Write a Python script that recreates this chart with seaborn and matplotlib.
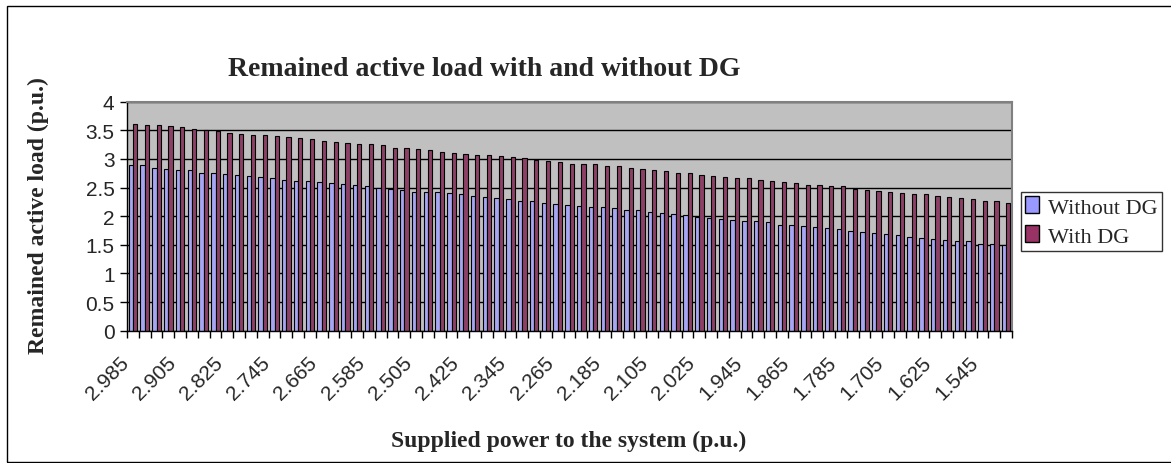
import matplotlib
matplotlib.use("Agg")
import matplotlib.pyplot as plt
import seaborn as sns
import pandas as pd
import numpy as np
from matplotlib.transforms import ScaledTranslation
from matplotlib.patches import Rectangle, Patch

# ---------------- data ----------------
supplied = ["2.985", "2.965", "2.945", "2.925", "2.905", "2.885", "2.865", "2.845",
            "2.825", "2.805", "2.785", "2.765", "2.745", "2.725", "2.705", "2.685",
            "2.665", "2.645", "2.625", "2.605", "2.585", "2.565", "2.545", "2.525",
            "2.505", "2.485", "2.465", "2.445", "2.425", "2.405", "2.385", "2.365",
            "2.345", "2.325", "2.305", "2.285", "2.265", "2.245", "2.225", "2.205",
            "2.185", "2.165", "2.145", "2.125", "2.105", "2.085", "2.065", "2.045",
            "2.025", "2.005", "1.985", "1.965", "1.945", "1.925", "1.905", "1.885",
            "1.865", "1.845", "1.825", "1.805", "1.785", "1.765", "1.745", "1.725",
            "1.705", "1.685", "1.665", "1.645", "1.625", "1.605", "1.585", "1.565",
            "1.545", "1.525", "1.505"]

without_dg = [2.89, 2.89, 2.85, 2.83, 2.80, 2.80, 2.76, 2.76, 2.74, 2.72, 2.70, 2.69,
              2.66, 2.64, 2.62, 2.62, 2.60, 2.58, 2.56, 2.54, 2.52, 2.50, 2.48, 2.45,
              2.43, 2.42, 2.42, 2.40, 2.38, 2.36, 2.34, 2.31, 2.30, 2.27, 2.26, 2.23,
              2.22, 2.20, 2.18, 2.16, 2.16, 2.14, 2.11, 2.10, 2.07, 2.06, 2.04, 2.02,
              1.99, 1.97, 1.95, 1.93, 1.91, 1.91, 1.89, 1.85, 1.85, 1.83, 1.81, 1.79,
              1.77, 1.75, 1.73, 1.71, 1.69, 1.67, 1.64, 1.62, 1.60, 1.58, 1.57, 1.57,
              1.52, 1.52, 1.50]

with_dg = [3.61, 3.59, 3.59, 3.57, 3.55, 3.53, 3.51, 3.48, 3.46, 3.44, 3.42, 3.42,
           3.40, 3.38, 3.36, 3.34, 3.32, 3.30, 3.27, 3.26, 3.26, 3.24, 3.20, 3.20,
           3.18, 3.15, 3.13, 3.11, 3.09, 3.07, 3.07, 3.05, 3.03, 3.01, 2.99, 2.97,
           2.95, 2.92, 2.91, 2.91, 2.88, 2.87, 2.85, 2.83, 2.80, 2.79, 2.76, 2.75,
           2.72, 2.70, 2.68, 2.66, 2.66, 2.64, 2.62, 2.59, 2.58, 2.55, 2.54, 2.52,
           2.52, 2.47, 2.46, 2.44, 2.42, 2.40, 2.38, 2.38, 2.36, 2.34, 2.31, 2.30,
           2.27, 2.26, 2.23]

series_names = ["Without DG", "With DG"]
series_colors = {"Without DG": "#9999FF", "With DG": "#993366"}
shown_labels = supplied[::4]
y_ticks = [0, 0.5, 1, 1.5, 2, 2.5, 3, 3.5, 4]
y_ticklabels = ["0", "0.5", "1", "1.5", "2", "2.5", "3", "3.5", "4"]

df = pd.DataFrame({
    "supplied": supplied + supplied,
    "load": without_dg + with_dg,
    "series": [series_names[0]] * len(supplied) + [series_names[1]] * len(supplied),
})

# ---------------- figure ----------------
sns.set_theme(style="white")
plt.rcParams["font.family"] = ["Liberation Sans", "DejaVu Sans"]

W, H = 1171, 464
fig = plt.figure(figsize=(W / 100, H / 100), dpi=100)
fig.patch.set_facecolor("white")

ax = fig.add_axes([127 / W, 1 - 331.7 / H, (1012 - 127) / W, (331.7 - 102.7) / H])
sns.barplot(data=df, x="supplied", y="load", hue="series", order=supplied,
            hue_order=series_names, palette=series_colors, width=0.72,
            edgecolor="black", linewidth=0.8, legend=False, ax=ax)

ax.set_facecolor("#C0C0C0")
ax.set_xlim(-0.5, len(supplied) - 0.5)
ax.set_ylim(0, 4)
ax.set_axisbelow(True)
ax.yaxis.grid(True, color="black", linewidth=1.0)
ax.xaxis.grid(False)

for side in ["left", "bottom"]:
    ax.spines[side].set_color("black")
    ax.spines[side].set_linewidth(1.0)
for side in ["top", "right"]:
    ax.spines[side].set_color("#808080")
    ax.spines[side].set_linewidth(1.5)

ax.set_yticks(y_ticks)
ax.set_yticklabels(y_ticklabels, fontsize=15)
ax.tick_params(axis="y", left=True, length=5, width=1, color="black", pad=4,
               direction="out")

pos = [supplied.index(s) for s in shown_labels]
ax.set_xticks(pos)
ax.set_xticklabels(shown_labels, fontsize=15)
ax.set_xticks(np.arange(-0.5, len(supplied), 1.0), minor=True)
ax.tick_params(axis="x", which="major", bottom=True, length=0, pad=0)
ax.tick_params(axis="x", which="minor", bottom=True, length=5, width=1,
               color="black", direction="out")
off = ScaledTranslation(-14 / 100, -22 / 100, fig.dpi_scale_trans)
for lbl in ax.get_xticklabels():
    lbl.set_rotation(45)
    lbl.set_ha("right")
    lbl.set_va("top")
    lbl.set_rotation_mode("anchor")
    lbl.set_transform(lbl.get_transform() + off)

ax.set_xlabel("")
ax.set_ylabel("")

serif = ["Liberation Serif", "DejaVu Serif"]
fig.text(484 / W, 1 - 70 / H, "Remained active load with and without DG",
         ha="center", va="center", fontsize=20, fontweight="bold", family=serif)
fig.text(38 / W, 1 - 216 / H, "Remained active load (p.u.)", rotation=90,
         ha="center", va="center", fontsize=17, fontweight="bold", family=serif)
fig.text(569 / W, 1 - 441 / H, "Supplied power to the system (p.u.)",
         ha="center", va="center", fontsize=17, fontweight="bold", family=serif)

handles = [Patch(facecolor=series_colors[n], edgecolor="black", linewidth=1)
           for n in series_names]
leg = fig.legend(handles, series_names, loc="upper left",
                 bbox_to_anchor=(1021 / W, 1 - 193 / H), frameon=True,
                 fancybox=False, edgecolor="black", borderaxespad=0,
                 prop={"family": serif, "size": 16}, handlelength=0.6,
                 handleheight=0.8, handletextpad=0.4, labelspacing=0.35,
                 borderpad=0.2)
leg.get_frame().set_linewidth(1.0)

fig.add_artist(Rectangle((7 / W, 1 / H), (1180 - 7) / W, (457 - 1) / H,
                         transform=fig.transFigure, fill=False,
                         edgecolor="black", linewidth=1.0))

fig.savefig("out.png", dpi=100)
